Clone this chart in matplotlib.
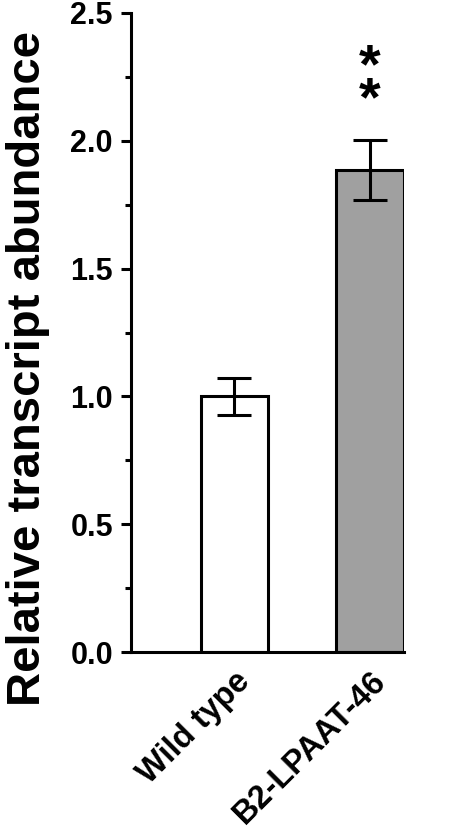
import matplotlib
matplotlib.use("Agg")
import matplotlib.pyplot as plt
import matplotlib.transforms as mtransforms
from matplotlib.ticker import MultipleLocator

categories = ["Wild type", "B2-LPAAT-46"]
values = [1.0, 1.886]
errors = [0.073, 0.117]
colors = ["white", "#a0a0a0"]
significance = ["", "*\n*"]

plt.rcParams['font.family'] = ['Liberation Sans', 'DejaVu Sans']
plt.rcParams['font.weight'] = 'bold'

fig = plt.figure(figsize=(4.73, 8.34), dpi=100)
ax = fig.add_axes([131/473, 1 - 652/834, (404 - 131)/473, (652 - 13)/834])

x = list(range(len(categories)))
lw = 2.2
ax.bar(x, values, width=0.5, color=colors, edgecolor="black", linewidth=lw, zorder=2)
ax.errorbar(x, values, yerr=errors, fmt="none", ecolor="black", elinewidth=lw,
            capsize=12, capthick=lw, zorder=3)
for xi, v, e, s in zip(x, values, errors, significance):
    if s:
        ax.text(xi, v + e + 0.05, s, ha="center", va="bottom", fontsize=40,
                fontweight="bold", linespacing=0.52)

ax.set_xlim(-0.763, 1.25)
ax.set_ylim(0, 2.5)
ax.yaxis.set_major_locator(MultipleLocator(0.5))
ax.yaxis.set_minor_locator(MultipleLocator(0.25))
ax.set_yticklabels([f"{t:.1f}" for t in ax.get_yticks()])
ax.set_xticks(x)
ax.set_xticklabels(categories, rotation=45, ha="right", va="top",
                   rotation_mode="anchor", fontsize=23.5, fontweight="bold")
offset = mtransforms.ScaledTranslation(-0.10, 0, fig.dpi_scale_trans)
for lab in ax.get_xticklabels():
    lab.set_transform(lab.get_transform() + offset)
ax.tick_params(axis="x", length=0, pad=10)
ax.tick_params(axis="y", which="major", length=7, width=lw, labelsize=22, pad=6)
ax.tick_params(axis="y", which="minor", length=4, width=lw)
for lab in ax.get_yticklabels():
    lab.set_fontweight("bold")

ax.spines["top"].set_visible(False)
ax.spines["right"].set_visible(False)
ax.spines["left"].set_linewidth(lw)
ax.spines["bottom"].set_linewidth(lw)

ax.set_ylabel("Relative transcript abundance", fontsize=34, fontweight="bold")
ax.yaxis.set_label_coords(-0.297, 0.444)

fig.savefig("out.png", dpi=100)
